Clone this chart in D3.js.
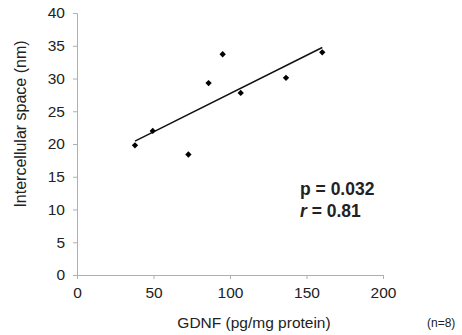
<!DOCTYPE html>
<html>
<head>
<meta charset="utf-8">
<script src="https://cdn.jsdelivr.net/npm/d3@7"></script>
<style>
  body { margin: 0; background: #fff; }
  svg text { font-family: "Liberation Sans", Arial, sans-serif; fill: #222; }
</style>
</head>
<body>
<div id="chart"></div>
<script>
// GDNF vs intercellular space
var gdnf = [37.9, 49.5, 72.8, 86.0, 95.2, 107.0, 136.6, 160.3];
var space = [19.8, 22.0, 18.4, 29.3, 33.7, 27.8, 30.1, 34.0];
var xTicks = [0, 50, 100, 150, 200];
var yTicks = [0, 5, 10, 15, 20, 25, 30, 35, 40];

var width = 462, height = 335;
var margin = {left: 77, right: 79, top: 13, bottom: 60};

var svg = d3.select("#chart").append("svg")
  .attr("width", width).attr("height", height);

var x = d3.scaleLinear().domain([0, 200]).range([margin.left, width - margin.right]);
var y = d3.scaleLinear().domain([0, 40]).range([height - margin.bottom, margin.top]);

var xAxis = d3.axisBottom(x).tickValues(xTicks).tickSize(4).tickPadding(8);
var yAxis = d3.axisLeft(y).tickValues(yTicks).tickSize(4).tickPadding(8);

var gx = svg.append("g").attr("transform", "translate(0," + y(0) + ")").call(xAxis);
var gy = svg.append("g").attr("transform", "translate(" + x(0) + ",0)").call(yAxis);

[gx, gy].forEach(function(g) {
  g.select(".domain").attr("stroke", "#b0b0b0");
  g.selectAll(".tick line").attr("stroke", "#b0b0b0");
  g.selectAll(".tick text").style("font-size", "15.5px").attr("fill", "#222");
});

// linear trendline (least squares over the points)
var mx = d3.mean(gdnf), my = d3.mean(space);
var sxy = d3.sum(gdnf, function(v, i) { return (v - mx) * (space[i] - my); });
var sxx = d3.sum(gdnf, function(v) { return (v - mx) * (v - mx); });
var slope = sxy / sxx, icpt = my - slope * mx;
var x0 = d3.min(gdnf), x1 = d3.max(gdnf);

svg.append("line")
  .attr("x1", x(x0)).attr("y1", y(icpt + slope * x0))
  .attr("x2", x(x1)).attr("y2", y(icpt + slope * x1))
  .attr("stroke", "#111").attr("stroke-width", 1.5);

var diamond = d3.symbol().type(d3.symbolSquare).size(20);
svg.selectAll(".pt").data(gdnf).enter().append("path")
  .attr("class", "pt")
  .attr("d", diamond)
  .attr("transform", function(d, i) {
    return "translate(" + x(d) + "," + y(space[i]) + ") rotate(45)";
  })
  .attr("fill", "#000");

// labels
svg.append("text")
  .attr("transform", "translate(26,124) rotate(-90)")
  .attr("text-anchor", "middle")
  .style("font-size", "16px")
  .text("Intercellular space (nm)");

svg.append("text")
  .attr("x", 254).attr("y", 328)
  .attr("text-anchor", "middle")
  .style("font-size", "15.5px")
  .text("GDNF (pg/mg protein)");

svg.append("text")
  .attr("x", 427).attr("y", 327)
  .style("font-size", "12px")
  .text("(n=8)");

svg.append("text")
  .attr("x", 300).attr("y", 195)
  .style("font-size", "17.5px").style("font-weight", "bold")
  .text("p = 0.032");

var rt = svg.append("text")
  .attr("x", 300).attr("y", 217)
  .style("font-size", "17.5px").style("font-weight", "bold");
rt.append("tspan").style("font-style", "italic").text("r");
rt.append("tspan").text(" = 0.81");
</script>
</body>
</html>
